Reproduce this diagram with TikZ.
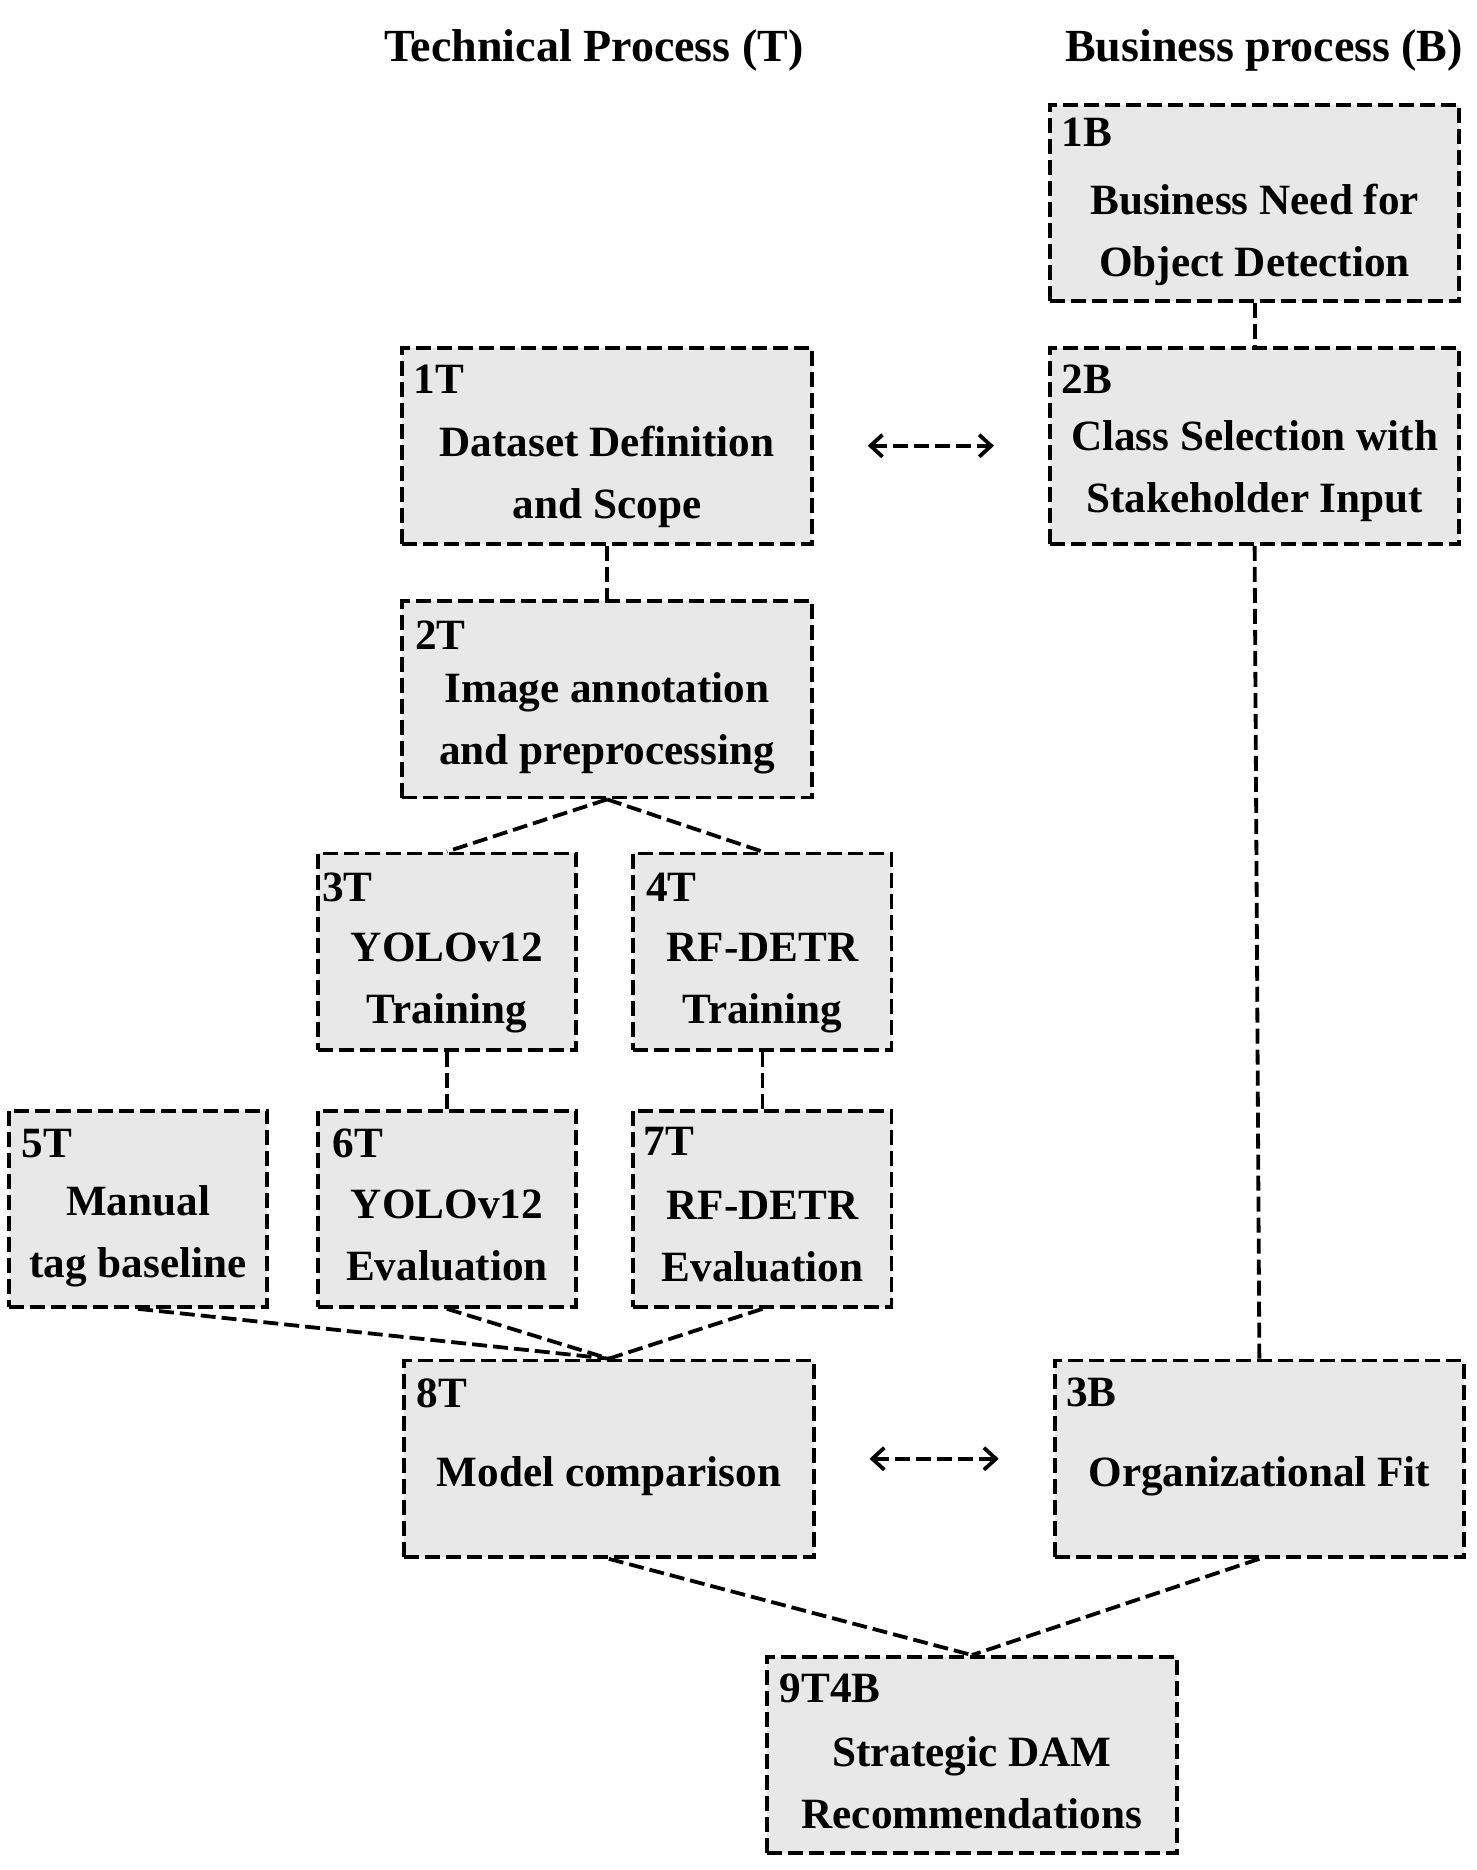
\documentclass[tikz,border=0pt]{standalone}
\usepackage{fontspec}
\setmainfont{Liberation Serif}
\usepackage{tikz}
\usetikzlibrary{arrows.meta}
\definecolor{boxgray}{HTML}{E8E8E8}

\begin{document}
\begin{tikzpicture}[x=0.5953pt, y=-0.5953pt, font=\fontsize{21.6}{31}\selectfont\bfseries,
  stage/.style={draw, line width=1.9pt, dash pattern=on 7.5pt off 3pt, fill=boxgray, minimum width=204.8pt, minimum height=98.2pt, inner sep=0pt},
  narrow/.style={stage, minimum width=129.2pt},
  heading/.style={font=\fontsize{23}{28}\selectfont\bfseries},
  tag/.style={anchor=base west, inner sep=0pt},
  body/.style={anchor=base, align=center, inner sep=0pt},
  link/.style={line width=1.9pt, dash pattern=on 7.5pt off 3pt},
  swap/.style={link, {Straight Barb[length=6pt,width=11pt]}-{Straight Barb[length=6pt,width=11pt]}, shorten <=27pt, shorten >=27pt}]
\useasboundingbox (0,0) rectangle (1240,1571);

% column headings
\node[heading] (head-t) at (499,42) {Technical Process (T)};
\node[heading] (head-b) at (1062,42) {Business process (B)};

% business side
\node[stage] (b1) at (1054,170.5) {};
\node[tag] (b1-id) at ([shift={(11,37)}]b1.north west) {1B};
\node[body] (b1-txt) at ([shift={(0,146)}]b1.north) {Business Need for\\Object Detection};
\node[stage] (b2) at (1054,374.5) {};
\node[tag] (b2-id) at ([shift={(11,40)}]b2.north west) {2B};
\node[body] (b2-txt) at ([shift={(0,140)}]b2.north) {Class Selection with\\Stakeholder Input};
\node[stage] (b3) at (1058,1225.5) {};
\node[tag] (b3-id) at ([shift={(11,40)}]b3.north west) {3B};
\node[body] (b3-txt) at ([shift={(0,107)}]b3.north) {Organizational Fit};

% technical side
\node[stage] (t1) at (510,374.5) {};
\node[tag] (t1-id) at ([shift={(11,40)}]t1.north west) {1T};
\node[body] (t1-txt) at ([shift={(0,145)}]t1.north) {Dataset Definition\\and Scope};
\node[stage] (t2) at (510,587.5) {};
\node[tag] (t2-id) at ([shift={(12,42)}]t2.north west) {2T};
\node[body] (t2-txt) at ([shift={(0,139)}]t2.north) {Image annotation\\and preprocessing};
\node[narrow] (t3) at (375.5,799.5) {};
\node[tag] (t3-id) at ([shift={(5,42)}]t3.north west) {3T};
\node[body] (t3-txt) at ([shift={(0,144)}]t3.north) {YOLOv12\\Training};
\node[narrow] (t4) at (640.5,799.5) {};
\node[tag] (t4-id) at ([shift={(12,42)}]t4.north west) {4T};
\node[body] (t4-txt) at ([shift={(0,144)}]t4.north) {RF-DETR\\Training};
\node[narrow] (t5) at (116,1015.5) {};
\node[tag] (t5-id) at ([shift={(12,41)}]t5.north west) {5T};
\node[body] (t5-txt) at ([shift={(0,142)}]t5.north) {Manual\\tag baseline};
\node[narrow] (t6) at (375.5,1015.5) {};
\node[tag] (t6-id) at ([shift={(14,41)}]t6.north west) {6T};
\node[body] (t6-txt) at ([shift={(0,144)}]t6.north) {YOLOv12\\Evaluation};
\node[narrow] (t7) at (640.5,1015.5) {};
\node[tag] (t7-id) at ([shift={(10,39)}]t7.north west) {7T};
\node[body] (t7-txt) at ([shift={(0,145)}]t7.north) {RF-DETR\\Evaluation};
\node[stage] (t8) at (511.5,1225.5) {};
\node[tag] (t8-id) at ([shift={(12,41)}]t8.north west) {8T};
\node[body] (t8-txt) at ([shift={(0,107)}]t8.north) {Model comparison};

% joint outcome
\node[stage] (tb9) at (816.5,1474.5) {};
\node[tag] (tb9-id) at ([shift={(12,40)}]tb9.north west) {9T4B};
\node[body] (tb9-txt) at ([shift={(0,146)}]tb9.north) {Strategic DAM\\Recommendations};

\draw [link] (b1.south) -- (b2.north);
\draw [link] (b2.south) -- (b3.north);
\draw [link] (t1.south) -- (t2.north);
\draw [link] (t2.south) -- (t3.north);
\draw [link] (t2.south) -- (t4.north);
\draw [link] (t3.south) -- (t6.north);
\draw [link] (t4.south) -- (t7.north);
\draw [link] (t5.south) -- (t8.north);
\draw [link] (t6.south) -- (t8.north);
\draw [link] (t7.south) -- (t8.north);
\draw [link] (t8.south) -- (tb9.north);
\draw [link] (b3.south) -- (tb9.north);
\draw [swap] (t1.east) -- (b2.west);
\draw [swap] (t8.east) -- (b3.west);
\end{tikzpicture}
\end{document}
